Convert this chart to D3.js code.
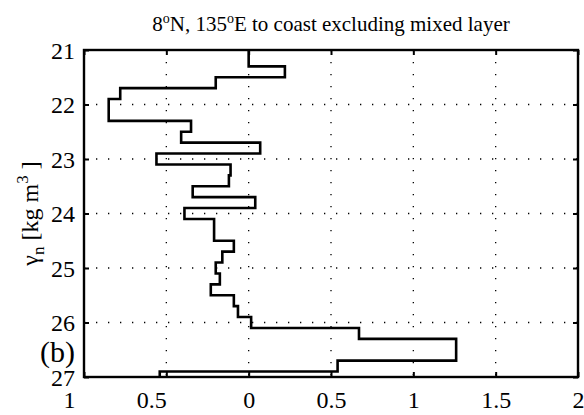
<!DOCTYPE html>
<html lang="en">
<head>
<meta charset="UTF-8">
<title>Gamma_n profile</title>
<script src="https://d3js.org/d3.v7.min.js"></script>
<style>
    body { margin: 0; background: #fff; }
    svg text { font-family: "Liberation Serif", "Times New Roman", Times, serif; }
    .grid line { stroke: #000; stroke-width: 1.3; stroke-dasharray: 1.3, 10.7; }
</style>
</head>
<body>
<svg></svg>
<script>
    const width = 584;
    const height = 415;

    // density bin centres (kg m^-3) and the plotted value in each bin
    const gammaCentres = [21.0, 21.2, 21.4, 21.6, 21.8, 22.0, 22.2, 22.4, 22.6, 22.8,
        23.0, 23.2, 23.4, 23.6, 23.8, 24.0, 24.2, 24.4, 24.6, 24.8,
        25.0, 25.2, 25.4, 25.6, 25.8, 26.0, 26.2, 26.4, 26.6, 26.8, 27.0];
    const binValues = [0, 0, 0.22, -0.2, -0.78, -0.85, -0.85, -0.35, -0.41, 0.07,
        -0.56, -0.11, -0.12, -0.34, 0.04, -0.39, -0.21, -0.21, -0.09, -0.16,
        -0.2, -0.175, -0.23, -0.09, -0.065, 0.015, 0.67, 1.26, 1.26, 0.54, -0.54];
    const binHalfWidth = 0.1;

    const xTicks = [-1, -0.5, 0, 0.5, 1, 1.5, 2];
    const xTickLabels = ["1", "0.5", "0", "0.5", "1", "1.5", "2"];
    const yTicks = [21, 22, 23, 24, 25, 26, 27];

    const margin = { top: 50, right: 6, bottom: 38, left: 84 };

    const svg = d3.select("svg").attr("width", width).attr("height", height);

    const x = d3.scaleLinear().domain([-1, 2]).range([margin.left, width - margin.right]);
    const y = d3.scaleLinear().domain([21, 27]).range([margin.top, height - margin.bottom]);

    // dotted grid
    const grid = svg.append("g").attr("class", "grid");
    grid.selectAll(".vx").data(xTicks.slice(1, -1)).enter().append("line")
        .attr("x1", d => x(d)).attr("x2", d => x(d))
        .attr("y1", y(21)).attr("y2", y(27));
    grid.selectAll(".hy").data(yTicks.slice(1, -1)).enter().append("line")
        .attr("y1", d => y(d)).attr("y2", d => y(d))
        .attr("x1", x(-1)).attr("x2", x(2));

    // stair trace
    let pts = [];
    gammaCentres.forEach((c, i) => {
        const lo = Math.max(21, c - binHalfWidth);
        const hi = Math.min(27, c + binHalfWidth);
        pts.push([binValues[i], lo]);
        pts.push([binValues[i], hi]);
    });
    svg.append("path")
        .attr("d", d3.line().x(d => x(d[0])).y(d => y(d[1]))(pts))
        .attr("fill", "none")
        .attr("stroke", "#000")
        .attr("stroke-width", 2.6)
        .attr("stroke-linejoin", "miter");

    // axes: inward ticks on all four sides
    const tickLen = 5;
    const axB = svg.append("g").attr("transform", `translate(0,${y(27)})`)
        .call(d3.axisBottom(x).tickValues(xTicks).tickSizeInner(-tickLen).tickSizeOuter(0)
            .tickFormat((d, i) => xTickLabels[i]));
    axB.selectAll("text").attr("dy", null).attr("y", 31)
        .attr("dx", d => d < 0 ? -15 : 0);
    const axT = svg.append("g").attr("transform", `translate(0,${y(21)})`)
        .call(d3.axisTop(x).tickValues(xTicks).tickSizeInner(-tickLen).tickSizeOuter(0).tickFormat(""));
    const axL = svg.append("g").attr("transform", `translate(${x(-1)},0)`)
        .call(d3.axisLeft(y).tickValues(yTicks).tickSizeInner(-tickLen).tickSizeOuter(0)
            .tickFormat(d3.format("d")));
    axL.selectAll("text").attr("x", -9).attr("dy", "0.34em");
    const axR = svg.append("g").attr("transform", `translate(${x(2)},0)`)
        .call(d3.axisRight(y).tickValues(yTicks).tickSizeInner(-tickLen).tickSizeOuter(0).tickFormat(""));

    [axB, axT, axL, axR].forEach(a => {
        a.attr("font-family", null);
        a.select(".domain").remove();
        a.selectAll("line").attr("stroke", "#000").attr("stroke-width", 2);
        a.selectAll("text").attr("font-size", 24).attr("fill", "#000");
    });

    // frame
    svg.append("rect")
        .attr("x", x(-1)).attr("y", y(21))
        .attr("width", x(2) - x(-1)).attr("height", y(27) - y(21))
        .attr("fill", "none").attr("stroke", "#000").attr("stroke-width", 2.4);

    // title
    const title = svg.append("text")
        .attr("x", (x(-1) + x(2)) / 2).attr("y", 31)
        .attr("text-anchor", "middle").attr("font-size", 21);
    title.append("tspan").text("8");
    title.append("tspan").attr("dy", -8).attr("font-size", 14).text("o");
    title.append("tspan").attr("dy", 8).text("N, 135");
    title.append("tspan").attr("dy", -8).attr("font-size", 14).text("o");
    title.append("tspan").attr("dy", 8).text("E to coast excluding mixed layer");

    // y label
    const ylab = svg.append("text")
        .attr("transform", `translate(38,${(y(21) + y(27)) / 2}) rotate(-90)`)
        .attr("text-anchor", "middle").attr("font-size", 24);
    ylab.append("tspan").text("γ");
    ylab.append("tspan").attr("dy", 6).attr("font-size", 17).text("n");
    ylab.append("tspan").attr("dy", -6).text(" [kg m");
    ylab.append("tspan").attr("dy", -10).attr("font-size", 17).text("3");
    ylab.append("tspan").attr("dy", 10).text("  ]");

    // panel letter
    svg.append("text").attr("x", 40).attr("y", 362)
        .attr("font-size", 30).text("(b)");
</script>
</body>
</html>
